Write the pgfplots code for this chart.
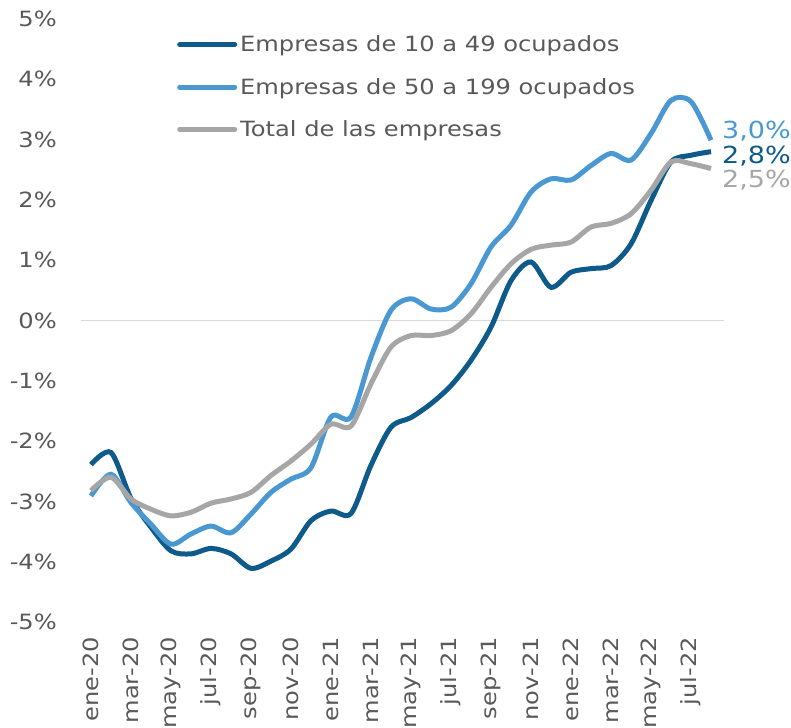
\documentclass[border=0pt]{standalone}
\usepackage{pgfplots}
\pgfplotsset{compat=1.18}
\usepackage{fontspec}
\setmainfont{DejaVu Sans}[FakeStretch=1.15]
\definecolor{cdark}{HTML}{0E5A8A}
\definecolor{clight}{HTML}{4A98D2}
\definecolor{cgray}{HTML}{A6A6A6}
\definecolor{ctext}{HTML}{595959}
\definecolor{czero}{HTML}{D9D9D9}
\pgfplotstableread{
i dark light total
0 -2.39 -2.91 -2.82
1 -2.19 -2.55 -2.60
2 -2.95 -3.02 -2.96
3 -3.43 -3.38 -3.13
4 -3.82 -3.71 -3.24
5 -3.87 -3.54 -3.18
6 -3.78 -3.41 -3.03
7 -3.87 -3.52 -2.96
8 -4.11 -3.21 -2.85
9 -3.99 -2.85 -2.57
10 -3.79 -2.63 -2.33
11 -3.32 -2.44 -2.05
12 -3.16 -1.60 -1.72
13 -3.20 -1.60 -1.75
14 -2.40 -0.61 -1.05
15 -1.77 0.17 -0.44
16 -1.61 0.36 -0.25
17 -1.38 0.19 -0.25
18 -1.08 0.22 -0.17
19 -0.66 0.61 0.11
20 -0.11 1.22 0.55
21 0.66 1.58 0.94
22 0.97 2.13 1.18
23 0.55 2.35 1.25
24 0.80 2.33 1.30
25 0.86 2.57 1.55
26 0.91 2.77 1.61
27 1.27 2.66 1.77
28 1.99 3.10 2.16
29 2.63 3.65 2.63
30 2.74 3.63 2.60
31 2.80 2.99 2.52
}\datatable
\begin{document}
\begin{tikzpicture}
\begin{axis}[
  width=640bp, height=603bp, scale only axis, clip=false,
  xmin=-0.5, xmax=31.5, ymin=-5, ymax=5,
  axis line style={draw=none},
  major tick length=0pt,
  font=\fontsize{21bp}{25bp}\selectfont,
  ytick={-5,-4,...,5},
  yticklabel={\pgfmathprintnumber{\tick}\%},
  /pgf/number format/assume math mode=true,
  yticklabel style={text=ctext, anchor=east, inner sep=0pt, xshift=-24bp},
  xtick={0,2,...,30},
  xticklabels={ene-20,mar-20,may-20,jul-20,sep-20,nov-20,ene-21,mar-21,may-21,jul-21,sep-21,nov-21,ene-22,mar-22,may-22,jul-22},
  xticklabel style={text=ctext, rotate=90, anchor=east, inner sep=0pt, xshift=-15bp},
  legend style={at={(rel axis cs:0.15,0.974)}, anchor=north west, draw=none, fill=none,
    text=ctext, row sep=23bp, column sep=2bp, inner sep=0pt,
    nodes={inner sep=1bp}},
  legend cell align=left,
  legend image code/.code={\draw[#1, line cap=round] (0bp,0bp) -- (55bp,0bp);},
]
\coordinate (bl) at (rel axis cs:0,0);
\coordinate (tr) at (rel axis cs:1,1);
\draw[czero, line width=1.5bp] (axis cs:-0.5,0) -- (axis cs:31.65,0);
\addplot[cdark, line width=5bp, smooth] table[x=i, y=dark] {\datatable};
\addlegendentry{Empresas de 10 a 49 ocupados}
\addplot[clight, line width=5bp, smooth] table[x=i, y=light] {\datatable};
\addlegendentry{Empresas de 50 a 199 ocupados}
\addplot[cgray, line width=5bp, smooth] table[x=i, y=total] {\datatable};
\addlegendentry{Total de las empresas}
\node[anchor=west, inner sep=0pt, text=clight, font=\fontsize{23.5bp}{26bp}\selectfont] at (axis cs:31.55,3.14) {3,0\%};
\node[anchor=west, inner sep=0pt, text=cdark, font=\fontsize{23.5bp}{26bp}\selectfont] at (axis cs:31.55,2.72) {2,8\%};
\node[anchor=west, inner sep=0pt, text=cgray, font=\fontsize{23.5bp}{26bp}\selectfont] at (axis cs:31.55,2.33) {2,5\%};
\end{axis}
\pgfresetboundingbox
\path ([shift={(-81bp,-106bp)}]bl) rectangle ([shift={(70bp,19bp)}]tr);
\end{tikzpicture}
\end{document}
